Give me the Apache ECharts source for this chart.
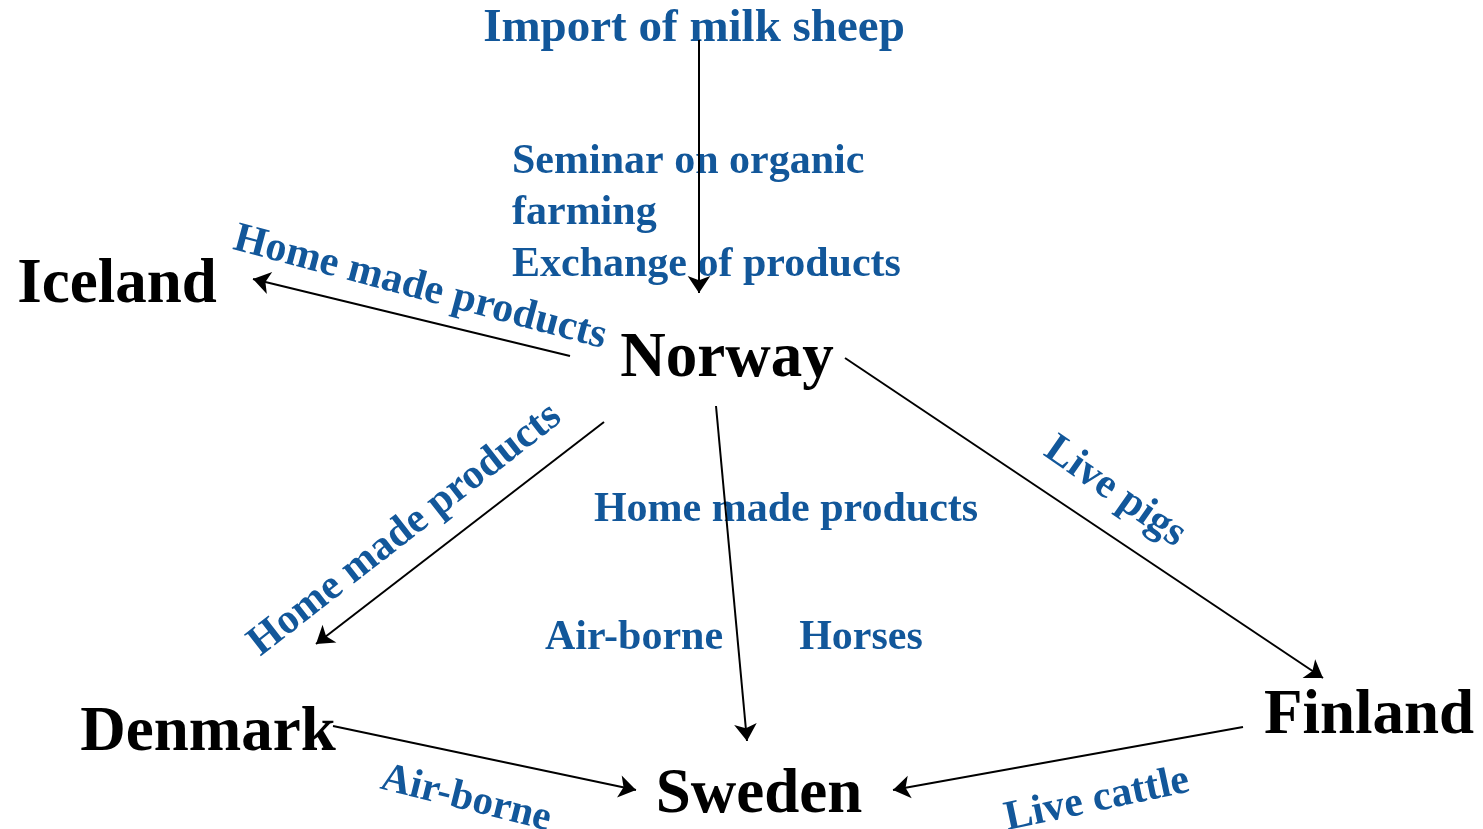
<!DOCTYPE html>
<html><head><meta charset="utf-8">
<script src="https://cdn.jsdelivr.net/npm/echarts@6/dist/echarts.min.js"></script>
<style>html,body{margin:0;padding:0;background:#fff}#c{width:1483px;height:829px}</style>
</head><body><div id="c"></div>
<script>
// Country nodes
const countries = ['Norway', 'Iceland', 'Denmark', 'Sweden', 'Finland'];
const countryX = [727, 117, 208, 759, 1369];
const countryY = [360, 286, 734, 796, 717];

// Flow labels
const flowLabels = ['Import of milk sheep', 'Seminar on organic', 'farming', 'Exchange of products',
  'Home made products', 'Home made products', 'Home made products',
  'Air-borne', 'Horses', 'Live pigs', 'Air-borne', 'Live cattle'];
const flowX = [694, 512, 512, 512, 420, 405, 786, 634, 861, 1115, 466, 1097];
const flowY = [29, 162, 213, 265, 288, 530, 510, 638, 638, 492, 799, 800];
const flowRotate = [0, 0, 0, 0, -15, 38, 0, 0, 0, -35, -14, 12];
const flowSize = [47, 42, 42, 42, 42, 42, 42, 42, 42, 42, 41, 42];
const flowAlign = ['center', 'left', 'left', 'left', 'center', 'center', 'center', 'center', 'center', 'center', 'center', 'center'];

// Arrows (from -> to)
const edgeFromX = [699, 570, 845, 604, 716, 333, 1243];
const edgeFromY = [40, 356, 358, 422, 406, 726, 727];
const edgeToX = [699, 253, 1323, 316, 747, 636, 893];
const edgeToY = [293, 279, 678, 644, 741, 790, 790];

const BLUE = '#12579a';
const FONT = '"Liberation Serif", "Times New Roman", serif';

const chart = echarts.init(document.getElementById('c'));
chart.setOption({
  animation: false,
  backgroundColor: '#ffffff',
  grid: { left: 0, right: 0, top: 0, bottom: 0 },
  xAxis: { type: 'value', min: 0, max: 1483, show: false },
  yAxis: { type: 'value', min: 0, max: 829, inverse: true, show: false },
  series: [
    {
      type: 'scatter',
      symbolSize: 0,
      z: 2,
      itemStyle: { opacity: 1 },
      data: countries.map((n, i) => ({ name: n, value: [countryX[i], countryY[i]] })),
      label: {
        show: true, position: 'inside', formatter: '{b}',
        fontFamily: FONT, fontWeight: 'bold', fontSize: 63, color: '#000000',
        align: 'center', verticalAlign: 'middle'
      }
    },
    {
      type: 'scatter',
      symbolSize: 0,
      z: 2,
      itemStyle: { opacity: 1 },
      data: flowLabels.map((n, i) => ({
        name: n, value: [flowX[i], flowY[i]],
        label: { rotate: flowRotate[i], fontSize: flowSize[i], align: flowAlign[i] }
      })),
      label: {
        show: true, position: 'inside', formatter: '{b}',
        fontFamily: FONT, fontWeight: 'bold', color: BLUE,
        verticalAlign: 'middle'
      }
    },
    {
      type: 'lines',
      coordinateSystem: 'cartesian2d',
      z: 5,
      symbol: ['none', 'arrow'],
      symbolSize: 17,
      lineStyle: { color: '#000', width: 2, opacity: 1 },
      data: edgeFromX.map((x, i) => ({ coords: [[x, edgeFromY[i]], [edgeToX[i], edgeToY[i]]] }))
    }
  ]
});
</script></body></html>
